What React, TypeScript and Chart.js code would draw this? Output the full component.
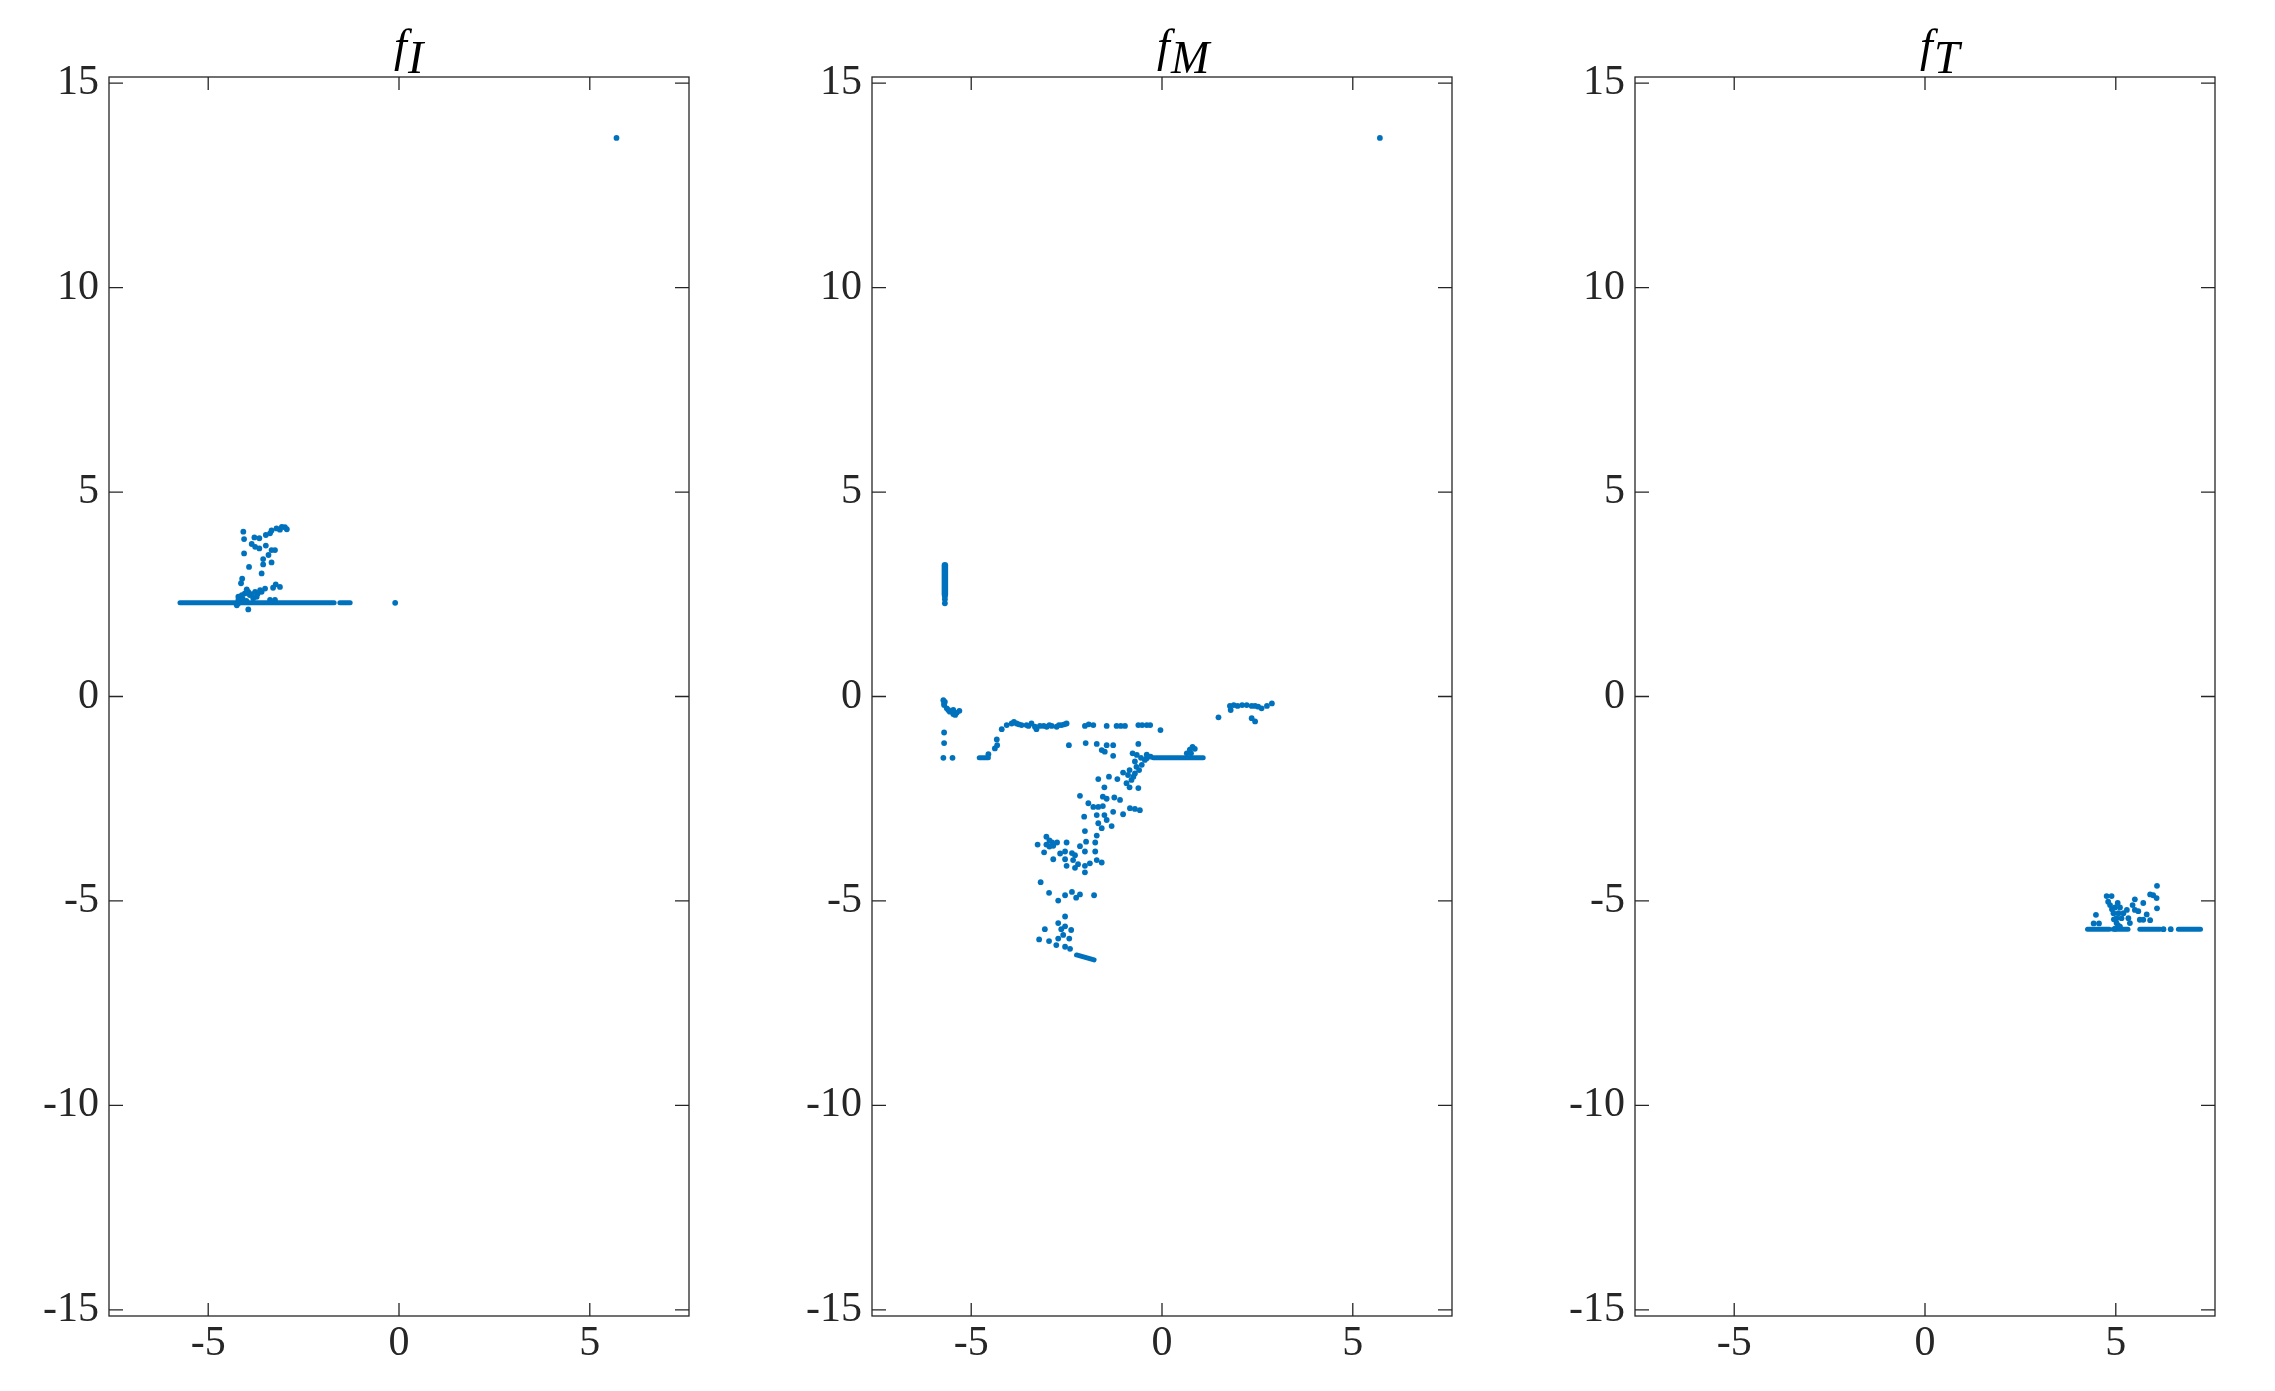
import React, { useEffect, useRef } from "react";
import { Chart, registerables } from "chart.js";

Chart.register(...registerables);

// ---- axes ----
const xTicks = [-5, 0, 5];
const yTicks = [-15, -10, -5, 0, 5, 10, 15];
const xLimits = [-7.6, 7.6];
const yLimits = [-15.15, 15.15];

// ---- panel f_I ----
const fIX = [
  -4.08, -4.06, -4.06, -3.93, -4.11, -4.14, -3.79, -3.66, -3.49, -3.38, -3.34, -3.21, -3.07, -2.99, -2.94, -3.12,
  -3.86, -3.77, -3.66, -3.49, -3.34, -3.25, -3.42, -3.56, -3.56, -3.34, -3.60, -3.23, -3.12, -3.51, -3.64, -3.77,
  -3.99, -4.04, -4.12, -3.91, -4.21, -4.25, -3.95, -3.73, -3.38, -3.25, -4.21, -3.82, -4.18, -4.10, -3.95, -3.86,
  -3.70, -4.22, -4.00, -3.60, -3.30, -0.10, 5.70,
];
const fIY = [
  4.03, 3.85, 3.50, 3.17, 2.88, 2.77, 3.89, 3.87, 3.95, 3.99, 4.06, 4.11, 4.15, 4.14, 4.09, 4.08,
  3.73, 3.66, 3.62, 3.69, 3.58, 3.58, 3.46, 3.36, 3.23, 3.28, 3.01, 2.74, 2.68, 2.64, 2.60, 2.56,
  2.62, 2.52, 2.48, 2.48, 2.36, 2.23, 2.13, 2.44, 2.36, 2.36, 2.44, 2.40, 2.30, 2.40, 2.56, 2.50,
  2.52, 2.28, 2.34, 2.56, 2.66, 2.29, 13.66,
];
const fIRuns = [
  [-5.74, 2.29, -1.70, 2.29],
  [-1.55, 2.29, -1.28, 2.29],
];

// ---- panel f_M ----
const fMX = [
  -5.69, -5.69, -5.69,
  -5.73, -5.71, -5.71, -5.64, -5.56, -5.47, -5.38, -5.31, -5.47, -5.69, -5.60, -5.42,
  -5.71, -5.71, -5.73, -5.49,
  -4.55, -4.38, -4.32, -4.33, -4.20,
  -4.07, -3.94, -3.81, -3.68, -3.55, -3.42, -3.33, -3.29, -3.20, -3.02, -2.89, -2.76, -2.63, -2.50, -3.88, -3.75,
  -3.50, -3.10, -2.95, -2.70, -2.56,
  -2.02, -1.92, -1.80, -1.45, -1.19, -1.08, -0.97, -0.62, -0.52, -0.40, -0.31, -0.04,
  1.48, 1.78, 1.88, 1.98, 2.10, 2.22, 2.35, 2.44, 2.52, 1.80, 2.35, 2.44, 2.61, 2.75, 2.88,
  -2.44, -2.00, -1.71, -1.58, -1.50, -1.45, -1.28, -1.28, -0.77, -0.62,
  -0.66, -0.55, -0.45, -0.40, -0.30, -0.40,
  0.65, 0.73, 0.80, 0.86, 0.76,
  -0.71, -0.53, -0.67, -1.02, -0.89, -0.80, -0.75, -0.93, -0.85, -0.62, -0.71, -0.60, -0.85,
  -1.17, -1.67, -1.39, -1.51,
  -2.15, -1.55, -1.45, -1.25, -1.10, -1.93, -1.80, -1.67, -1.55, -1.28, -1.02, -0.84, -0.71, -0.58,
  -2.04, -1.71, -1.51, -1.45, -1.67, -1.58, -1.32, -2.02, -1.71, -1.99, -1.75, -2.15,
  -3.03, -2.95, -2.88, -3.03, -2.85, -2.75, -2.95, -3.26, -2.50, -3.09, -2.67, -2.54, -2.36, -2.28, -2.02, -1.75,
  -2.85, -2.54, -2.33, -2.20, -2.02, -1.89, -1.71, -1.58, -2.50, -2.28, -2.02,
  -3.18, -2.96, -2.72, -2.54, -2.36, -2.25, -2.15, -1.78,
  -2.54, -2.72, -2.54, -2.38, -2.64, -3.07, -3.22, -2.96, -2.72, -2.59, -2.43, -2.77, -2.54, -2.41,
  5.71,
];
const fMY = [
  2.45, 2.38, 2.28,
  -0.09, -0.17, -0.21, -0.29, -0.37, -0.43, -0.40, -0.35, -0.33, -0.13, -0.33, -0.45,
  -0.88, -1.14, -1.50, -1.50,
  -1.41, -1.27, -1.19, -1.05, -0.80,
  -0.70, -0.66, -0.66, -0.70, -0.70, -0.66, -0.74, -0.80, -0.72, -0.74, -0.72, -0.74, -0.70, -0.66, -0.62, -0.68,
  -0.72, -0.72, -0.70, -0.70, -0.68,
  -0.72, -0.68, -0.70, -0.72, -0.72, -0.72, -0.72, -0.70, -0.70, -0.70, -0.70, -0.82,
  -0.51, -0.23, -0.21, -0.23, -0.21, -0.21, -0.23, -0.23, -0.25, -0.33, -0.53, -0.61, -0.29, -0.23, -0.17,
  -1.19, -1.14, -1.16, -1.31, -1.35, -1.19, -1.19, -1.45, -1.39, -1.16,
  -1.43, -1.50, -1.55, -1.51, -1.47, -1.42,
  -1.39, -1.30, -1.23, -1.28, -1.39,
  -1.59, -1.67, -1.72, -1.86, -1.92, -2.04, -1.96, -2.12, -2.22, -2.24, -1.88, -1.80, -1.80,
  -2.02, -2.02, -1.96, -2.22,
  -2.43, -2.45, -2.50, -2.47, -2.53, -2.61, -2.70, -2.70, -2.68, -2.82, -2.88, -2.73, -2.75, -2.78,
  -2.94, -2.90, -2.90, -3.02, -3.10, -3.22, -3.17, -3.29, -3.40, -3.55, -3.57, -3.66,
  -3.43, -3.52, -3.57, -3.62, -3.65, -3.57, -3.67, -3.62, -3.57, -3.81, -3.84, -3.79, -3.83, -3.88, -3.79, -3.79,
  -3.98, -3.98, -4.00, -4.10, -4.14, -4.08, -4.00, -4.06, -4.14, -4.19, -4.30,
  -4.54, -4.80, -4.99, -4.86, -4.78, -4.92, -4.84, -4.86,
  -5.38, -5.54, -5.62, -5.71, -5.69, -5.69, -5.94, -5.98, -5.92, -5.83, -5.92, -6.08, -6.12, -6.17,
  13.66,
];
const fMRuns = [
  [-5.69, 2.50, -5.69, 3.21],
  [-4.79, -1.50, -4.55, -1.50],
  [-0.23, -1.50, 1.08, -1.50],
  [-2.24, -6.32, -1.78, -6.44],
];

// ---- panel f_T ----
const fTX = [
  6.25, 6.44,
  4.48, 4.42, 4.56, 4.76, 4.89, 4.80, 4.85, 4.98, 5.11, 4.94, 5.07, 5.20, 5.02, 5.15, 5.33, 5.02, 5.11, 5.37,
  5.29, 5.50, 5.44, 5.50, 5.59, 5.72, 5.63, 5.72, 5.81, 5.90, 5.90, 5.98, 6.07, 6.08, 6.08, 4.90, 5.05, 4.95,
  5.06, 4.98,
];
const fTY = [
  -5.69, -5.69,
  -5.34, -5.55, -5.55, -4.88, -4.88, -5.02, -5.10, -5.16, -5.16, -5.30, -5.30, -5.30, -5.42, -5.42, -5.42, -5.54, -5.63, -5.54,
  -5.22, -4.96, -5.10, -5.22, -5.25, -5.05, -5.46, -5.46, -5.33, -5.47, -4.84, -4.86, -4.93, -4.63, -5.18, -5.20, -5.05, -5.45,
  -5.60, -5.68,
];
const fTRuns = [
  [4.26, -5.69, 4.83, -5.69],
  [4.93, -5.69, 5.32, -5.69],
  [5.63, -5.69, 6.16, -5.69],
  [6.64, -5.69, 7.22, -5.69],
];

const BLUE = "#0072BD";
const AXIS = "#262626";
const FONT = '"Liberation Serif", "Times New Roman", serif';

const framePlugin = {
  id: "frame",
  afterDraw(chart: any, _args: any, opts: any) {
    const { ctx, chartArea: a, scales } = chart;
    ctx.save();
    ctx.strokeStyle = AXIS;
    ctx.lineWidth = 1.3;
    ctx.strokeRect(a.left, a.top, a.right - a.left, a.bottom - a.top);
    ctx.beginPath();
    for (const v of xTicks) {
      const p = scales.x.getPixelForValue(v);
      ctx.moveTo(p, a.bottom);
      ctx.lineTo(p, a.bottom - 13);
      ctx.moveTo(p, a.top);
      ctx.lineTo(p, a.top + 13);
    }
    for (const v of yTicks) {
      const p = scales.y.getPixelForValue(v);
      ctx.moveTo(a.left, p);
      ctx.lineTo(a.left + 14, p);
      ctx.moveTo(a.right, p);
      ctx.lineTo(a.right - 14, p);
    }
    ctx.stroke();
    const cx = (a.left + a.right) / 2;
    ctx.fillStyle = "#000";
    ctx.font = `italic 46px ${FONT}`;
    ctx.textAlign = "left";
    ctx.textBaseline = "alphabetic";
    ctx.fillText(opts.main, cx - 5, a.top - 16);
    ctx.fillText(opts.sub, cx + 9, a.top - 4);
    ctx.restore();
  },
};

type PanelProps = { left: number; xs: number[]; ys: number[]; runs: number[][]; sub: string };

function Panel({ left, xs, ys, runs, sub }: PanelProps) {
  const ref = useRef<HTMLCanvasElement>(null);
  useEffect(() => {
    if (!ref.current) return;
    const datasets: any[] = [
      {
        data: xs.map((x, i) => ({ x, y: ys[i] })),
        pointRadius: 2.9,
        pointHoverRadius: 2.9,
        backgroundColor: BLUE,
        borderWidth: 0,
        showLine: false,
      },
      ...runs.map((r) => ({
        data: [
          { x: r[0], y: r[1] },
          { x: r[2], y: r[3] },
        ],
        showLine: true,
        borderColor: BLUE,
        borderWidth: r[0] === r[2] ? 6.5 : 5,
        borderCapStyle: "round",
        pointRadius: 0,
        pointHoverRadius: 0,
      })),
    ];
    const tickFont = { family: FONT, size: 42 };
    const chart = new Chart(ref.current, {
      type: "scatter",
      data: { datasets },
      options: {
        animation: false,
        responsive: false,
        events: [],
        layout: { padding: { left: 0, right: 20, top: 77, bottom: 0 } },
        plugins: {
          legend: { display: false },
          tooltip: { enabled: false },
          frame: { main: "f", sub },
        } as any,
        scales: {
          x: {
            type: "linear",
            min: xLimits[0],
            max: xLimits[1],
            grid: { display: false, drawTicks: false },
            border: { display: false },
            ticks: { font: tickFont, color: AXIS, padding: 3, maxRotation: 0 },
            afterBuildTicks: (s: any) => {
              s.ticks = xTicks.map((v) => ({ value: v }));
            },
            afterFit: (s: any) => {
              s.height = 75;
            },
          },
          y: {
            type: "linear",
            min: yLimits[0],
            max: yLimits[1],
            grid: { display: false, drawTicks: false },
            border: { display: false },
            ticks: { font: tickFont, color: AXIS, padding: 10 },
            afterBuildTicks: (s: any) => {
              s.ticks = yTicks.map((v) => ({ value: v }));
            },
            afterFit: (s: any) => {
              s.width = 100;
            },
          },
        },
      },
      plugins: [framePlugin],
    } as any);
    return () => chart.destroy();
  }, []);
  return (
    <canvas
      ref={ref}
      width={700}
      height={1391}
      style={{ position: "absolute", left, top: 0, width: 700, height: 1391 }}
    />
  );
}

export default function App() {
  return (
    <div style={{ position: "absolute", left: 0, top: 0, width: 2275, height: 1391, background: "#fff" }}>
      <Panel left={9} xs={fIX} ys={fIY} runs={fIRuns} sub="I" />
      <Panel left={772} xs={fMX} ys={fMY} runs={fMRuns} sub="M" />
      <Panel left={1535} xs={fTX} ys={fTY} runs={fTRuns} sub="T" />
    </div>
  );
}
